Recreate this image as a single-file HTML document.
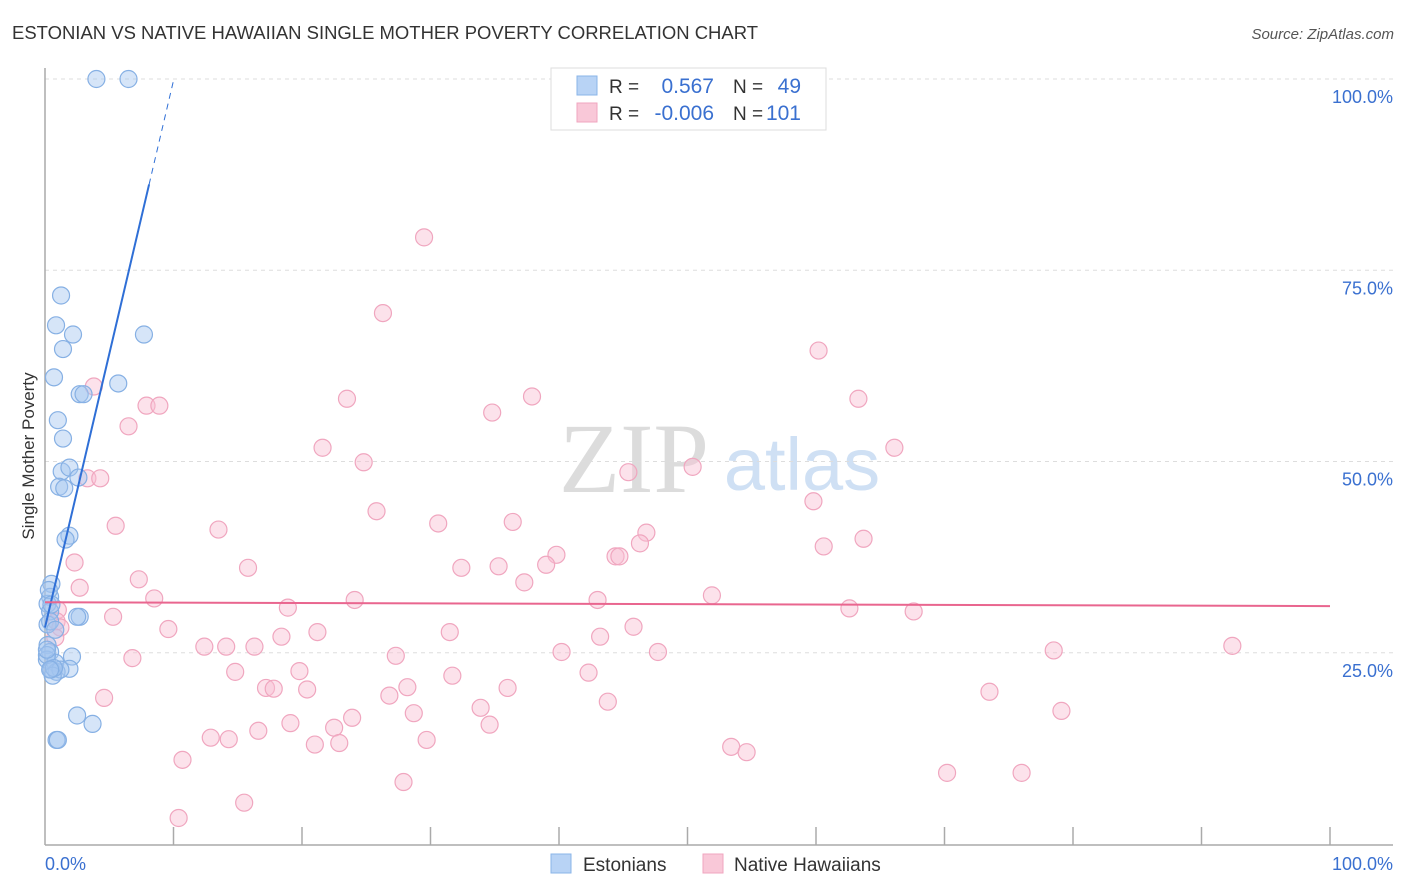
<!DOCTYPE html>
<html><head><meta charset="utf-8"><style>
body{margin:0;background:#fff;font-family:"Liberation Sans",sans-serif;}
#wrap{position:relative;width:1406px;height:892px;overflow:hidden;}
</style></head><body>
<div id="wrap">
<svg id="svg" width="1406" height="892" xmlns="http://www.w3.org/2000/svg">
<text x="12" y="39" font-size="18" fill="#333" textLength="746" lengthAdjust="spacingAndGlyphs">ESTONIAN VS NATIVE HAWAIIAN SINGLE MOTHER POVERTY CORRELATION CHART</text>
<text x="1394" y="39" font-size="15" fill="#555" font-style="italic" text-anchor="end">Source: ZipAtlas.com</text>
<text x="34" y="456" font-size="17" fill="#333" text-anchor="middle" transform="rotate(-90 34 456)">Single Mother Poverty</text>
<text x="634" y="492" font-size="100" fill="#dcdcdc" font-family="Liberation Serif,serif" text-anchor="middle">ZIP</text>
<text x="802" y="490" font-size="74" fill="#cfe0f4" text-anchor="middle">atlas</text>
<g id="grid"></g><g id="axes"></g><g id="pts"></g><g id="trend"></g>
<g>
<rect x="551" y="68" width="275" height="62" fill="#fff" stroke="#ddd"/>
<rect x="577" y="76" width="20" height="19" fill="#b8d3f5" stroke="#8ab4e8"/>
<rect x="577" y="103" width="20" height="19" fill="#f9c8d8" stroke="#f0a6bf"/>
<text x="609" y="93" font-size="19" fill="#333">R =</text>
<text x="714" y="93" font-size="21" fill="#3a70d0" text-anchor="end">0.567</text>
<text x="733" y="93" font-size="19" fill="#333">N =</text>
<text x="801" y="93" font-size="21" fill="#3a70d0" text-anchor="end">49</text>
<text x="609" y="120" font-size="19" fill="#333">R =</text>
<text x="714" y="120" font-size="21" fill="#3a70d0" text-anchor="end">-0.006</text>
<text x="733" y="120" font-size="19" fill="#333">N =</text>
<text x="801" y="120" font-size="21" fill="#3a70d0" text-anchor="end">101</text>
</g>
<g>
<rect x="551" y="854" width="20" height="19" fill="#b8d3f5" stroke="#8ab4e8"/>
<text x="583" y="871" font-size="19" fill="#333">Estonians</text>
<rect x="703" y="854" width="20" height="19" fill="#f9c8d8" stroke="#f0a6bf"/>
<text x="734" y="871" font-size="19" fill="#333">Native Hawaiians</text>
</g>
</svg>
</div>
<script>
const yTicks=[25,50,75,100];
const yTickLabels=["25.0%","50.0%","75.0%","100.0%"];
const xTicks=[10,20,30,40,50,60,70,80,90,100];
const estX=[4.0,6.5,1.25,0.86,2.18,7.7,1.4,0.7,5.7,2.7,3.0,1.0,1.4,1.3,1.9,1.1,1.5,2.6,1.9,1.6,0.5,0.4,0.2,0.4,2.7,2.5,0.2,0.4,2.1,0.15,0.8,1.9,0.5,0.9,1.2,0.6,2.5,3.7,0.9,1.0,0.2,0.4,0.15,0.7,0.4,0.15,0.3,0.5,0.8];
const estY=[100,100,71.7,67.8,66.6,66.6,64.7,61.0,60.2,58.8,58.8,55.4,53.0,48.7,49.2,46.7,46.5,47.9,40.3,39.8,34.0,32.3,31.4,30.4,29.7,29.7,26.0,25.1,24.5,24.1,23.7,22.9,22.8,22.5,22.8,22.0,16.8,15.7,13.6,13.6,28.7,29.1,24.7,23.0,22.8,25.4,33.2,31.3,28.0];
const hawX=[29.5,26.3,60.2,3.8,7.9,8.9,23.5,37.9,63.3,34.8,6.5,21.6,66.1,24.8,50.4,45.4,3.3,4.3,59.8,25.8,36.4,5.5,30.6,13.5,46.8,46.3,60.6,63.7,39.8,39.0,44.4,44.7,2.3,15.8,32.4,35.3,7.3,37.3,2.7,8.5,51.9,24.1,43.0,18.9,62.6,67.6,1.0,0.9,5.3,1.2,9.6,45.8,21.2,31.5,43.2,18.4,12.4,14.1,16.3,0.8,40.2,47.7,78.5,92.4,6.8,27.3,19.8,14.8,31.7,42.3,17.2,17.8,20.4,28.2,36.0,26.8,4.6,43.8,73.5,33.9,28.7,79.1,23.9,19.1,34.6,22.5,16.6,14.3,12.9,21.0,22.9,29.7,53.4,54.6,10.7,70.2,76.0,15.5,27.9,10.4];
const hawY=[79.3,69.4,64.5,59.8,57.3,57.3,58.2,58.5,58.2,56.4,54.6,51.8,51.8,49.9,49.3,48.6,47.8,47.8,44.8,43.5,42.1,41.6,41.9,41.1,40.7,39.3,38.9,39.9,37.8,36.5,37.6,37.6,36.8,36.1,36.1,36.3,34.6,34.2,33.5,32.1,32.5,31.9,31.9,30.9,30.8,30.4,30.6,29.1,29.7,28.3,28.1,28.4,27.7,27.7,27.1,27.1,25.8,25.8,25.8,27.0,25.1,25.1,25.3,25.9,24.3,24.6,22.6,22.5,22.0,22.4,20.4,20.3,20.2,20.5,20.4,19.4,19.1,18.6,19.9,17.8,17.1,17.4,16.5,15.8,15.6,15.2,14.8,13.7,13.9,13.0,13.2,13.6,12.7,12.0,11.0,9.3,9.3,5.4,8.1,3.4];
const estFit=[28.3,7.15]; // intercept, slope
const hawFit=[31.6,-0.005];
const X0=45,X1=1330,Y0=844,Y100=79;
const sx=v=>X0+(X1-X0)*v/100;
const sy=v=>Y0+(Y100-Y0)*v/100;
const NS="http://www.w3.org/2000/svg";
function mk(tag,attrs,parent){const e=document.createElementNS(NS,tag);for(const k in attrs)e.setAttribute(k,attrs[k]);document.getElementById(parent).appendChild(e);return e;}
yTicks.forEach((t,i)=>{
  const g=mk('line',{x1:X0,x2:1393,y1:sy(t),y2:sy(t),stroke:'#ddd','stroke-dasharray':'4,4'},'grid');
  
  
  const l=mk('text',{x:1393,y:sy(t)+24,'font-size':18,fill:'#3a70d0','text-anchor':'end'},'grid');
  l.textContent=yTickLabels[i];
  
  
});
let a=mk('line',{x1:X0,x2:X0,y1:68,y2:845,stroke:'#aaa','stroke-width':1.5},'axes');


a=mk('line',{x1:X0,x2:1393,y1:845,y2:845,stroke:'#aaa','stroke-width':1.5},'axes');


xTicks.forEach(t=>{const e=mk('line',{x1:sx(t),x2:sx(t),y1:827,y2:845,stroke:'#aaa','stroke-width':1.5},'axes');
  
  });
let t1=mk('text',{x:45,y:870,'font-size':18,fill:'#3a70d0'},'axes');t1.textContent='0.0%';


t1=mk('text',{x:1393,y:870,'font-size':18,fill:'#3a70d0','text-anchor':'end'},'axes');t1.textContent='100.0%';


hawX.forEach((x,i)=>{const c=mk('circle',{cx:sx(x),cy:sy(hawY[i]),r:8.5,fill:'rgba(249,190,210,0.45)',stroke:'#f0a6bf','stroke-width':1.2},'pts');
  
  });
estX.forEach((x,i)=>{const c=mk('circle',{cx:sx(x),cy:sy(estY[i]),r:8.5,fill:'rgba(165,198,240,0.45)',stroke:'#86b0e4','stroke-width':1.2},'pts');
  
  });
let tl=mk('line',{x1:sx(0),y1:sy(estFit[0]),x2:sx(8.1),y2:sy(estFit[0]+estFit[1]*8.1),stroke:'#2f6fd6','stroke-width':2},'trend');


tl=mk('line',{x1:sx(8.1),y1:sy(estFit[0]+estFit[1]*8.1),x2:sx(10),y2:sy(estFit[0]+estFit[1]*10),stroke:'#2f6fd6','stroke-width':1,'stroke-dasharray':'6,5'},'trend');


tl=mk('line',{x1:sx(0),y1:sy(hawFit[0]),x2:sx(100),y2:sy(hawFit[0]+hawFit[1]*100),stroke:'#e9668f','stroke-width':2},'trend');


</script>
</body></html>
